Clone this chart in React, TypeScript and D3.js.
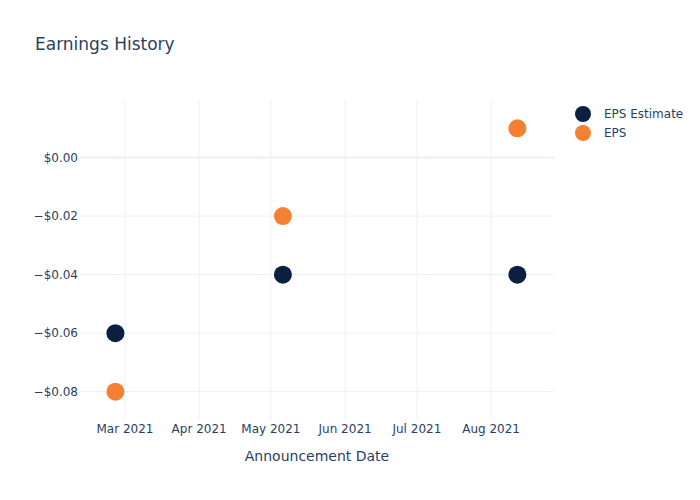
import React from "react";
import * as d3 from "d3";

const dates = ["2021-02-25", "2021-05-06", "2021-08-12"];
const epsEstimate = [-0.06, -0.04, -0.04];
const eps = [-0.08, -0.02, 0.01];
const yTicks = [0, -0.02, -0.04, -0.06, -0.08];
const xTicks = ["2021-03-01", "2021-04-01", "2021-05-01", "2021-06-01", "2021-07-01", "2021-08-01"];
const seriesNames = ["EPS Estimate", "EPS"];
const colors = ["#0b1f41", "#f68032"];

const W = 700, H = 500;
const L = 80, R = 554, T = 100, B = 420;
const font = "'DejaVu Sans', Verdana, sans-serif";
const textColor = "#2a3f5f";
const grid = "#ebf0f8";

export default function App() {
  const parse = (s: string) => new Date(s + "T00:00:00Z");
  const day = 86400000;
  const x0 = parse("2021-03-01").getTime() - 18.8 * day;
  const x1 = parse("2021-08-01").getTime() + 26.3 * day;
  const x = d3.scaleUtc().domain([new Date(x0), new Date(x1)]).range([L, R]);
  const y = d3.scaleLinear().domain([-0.0897, 0.0197]).range([B, T]);
  const fmtY = (v: number) => (v < 0 ? "\u2212" : "") + "$" + Math.abs(v).toFixed(2);
  const fmtX = d3.utcFormat("%b %Y");
  const series = [epsEstimate, eps];

  return (
    <svg width={W} height={H} style={{ position: "absolute", left: 0, top: 0, background: "#fff" }} fontFamily={font}>
      <rect x={0} y={0} width={W} height={H} fill="#fff" />
      {xTicks.map((t) => (
        <line key={t} x1={x(parse(t))} x2={x(parse(t))} y1={T} y2={B} stroke={grid} strokeWidth={1} />
      ))}
      {yTicks.map((t) => (
        <line key={t} x1={L} x2={R} y1={y(t)} y2={y(t)} stroke={grid} strokeWidth={t === 0 ? 2 : 1} />
      ))}
      {yTicks.map((t) => (
        <text key={t} x={78} y={y(t)} dy="0.35em" textAnchor="end" fontSize={12} fill={textColor}>
          {fmtY(t)}
        </text>
      ))}
      {xTicks.map((t) => (
        <text key={t} x={x(parse(t))} y={433} textAnchor="middle" fontSize={12} fill={textColor}>
          {fmtX(parse(t))}
        </text>
      ))}
      <text x={(L + R) / 2} y={461} textAnchor="middle" fontSize={14} fill={textColor}>
        Announcement Date
      </text>
      <text x={35} y={50} fontSize={17} fill={textColor}>
        Earnings History
      </text>
      {series.map((s, si) =>
        s.map((v, i) => (
          <circle key={si + "-" + i} cx={x(parse(dates[i]))} cy={y(v)} r={9} fill={colors[si]} />
        ))
      )}
      {seriesNames.map((n, i) => (
        <g key={n} transform={`translate(583,${114 + i * 19})`}>
          <circle cx={0} cy={0} r={8} fill={colors[i]} />
          <text x={21} y={0} dy="0.35em" fontSize={12} fill={textColor}>
            {n}
          </text>
        </g>
      ))}
    </svg>
  );
}
